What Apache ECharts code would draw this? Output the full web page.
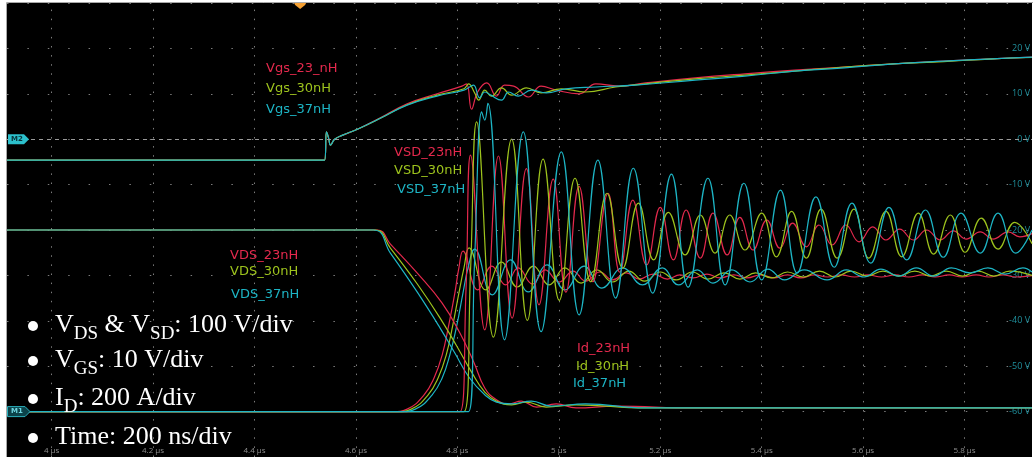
<!DOCTYPE html>
<html><head><meta charset="utf-8">
<script src="https://cdn.jsdelivr.net/npm/echarts@6/dist/echarts.min.js"></script>
<style>html,body{margin:0;padding:0;background:#fff;overflow:hidden}#c{width:1033px;height:457px}</style>
</head><body><div id="c"></div><script>
// ---- axis ticks ----
const timeTicks = [4.0, 4.2, 4.4, 4.6, 4.8, 5.0, 5.2, 5.4, 5.6, 5.8]; // µs
const triggerTime = 4.49;
// ---- Vgs (V) ----
const vgs23 = [[3.912,-4.6],[4.538,-4.6],[4.542,1.6],[4.546,0.3],[4.550,-1.3],[4.558,0.0],[4.574,0.9],[4.603,2.2],[4.648,4.7],[4.701,7.8],[4.760,10.0],[4.809,11.7],[4.818,12.2],[4.828,6.6],[4.840,10.4],[4.858,12.4],[4.877,9.5],[4.893,11.9],[4.911,11.7],[4.940,9.3],[4.965,11.7],[4.995,10.8],[5.040,10.0],[5.073,12.2],[5.118,11.7],[5.171,12.4],[5.269,13.5],[5.367,14.4],[5.465,15.2],[5.563,15.9],[5.661,16.6],[5.759,17.2],[5.856,17.7],[5.933,18.1]];
const vgs30 = [[3.912,-4.6],[4.538,-4.6],[4.542,1.6],[4.546,0.3],[4.550,-1.3],[4.558,0.0],[4.574,0.9],[4.603,2.2],[4.648,4.6],[4.701,7.6],[4.760,9.7],[4.813,11.1],[4.822,12.2],[4.834,10.2],[4.842,8.6],[4.854,10.8],[4.867,9.5],[4.887,11.3],[4.907,9.7],[4.936,11.3],[4.965,10.2],[5.005,11.1],[5.053,10.4],[5.112,11.5],[5.171,12.2],[5.269,13.3],[5.367,14.1],[5.465,15.0],[5.563,15.9],[5.661,16.6],[5.759,17.1],[5.856,17.7],[5.933,18.0]];
const vgs37 = [[3.912,-4.6],[4.538,-4.6],[4.542,1.6],[4.546,0.3],[4.550,-1.3],[4.558,0.0],[4.574,0.9],[4.603,2.2],[4.648,4.6],[4.701,7.5],[4.760,9.5],[4.813,10.8],[4.824,11.5],[4.832,11.9],[4.844,9.1],[4.854,10.4],[4.866,9.7],[4.887,8.6],[4.901,10.4],[4.920,9.5],[4.946,10.8],[4.975,10.2],[5.014,11.1],[5.073,11.5],[5.151,11.9],[5.269,13.0],[5.367,13.9],[5.465,15.0],[5.563,15.7],[5.661,16.6],[5.759,17.2],[5.856,17.7],[5.933,18.1]];
// ---- VDS (V) ----
const vds23 = [[3.912,400],[4.642,400],[4.668,369],[4.721,305],[4.770,239],[4.805,173],[4.832,110],[4.854,52],[4.877,26],[4.901,17],[4.926,23],[4.956,10],[4.995,17],[5.034,8],[5.112,12],[5.269,8],[5.933,8]];
const vds30 = [[3.912,400],[4.638,400],[4.668,360],[4.721,281],[4.766,206],[4.799,144],[4.828,87],[4.854,43],[4.877,23],[4.907,15],[4.936,21],[4.975,10],[5.034,15],[5.171,8],[5.933,8]];
const vds37 = [[3.912,400],[4.634,400],[4.668,349],[4.721,263],[4.766,184],[4.795,129],[4.824,74],[4.854,37],[4.877,21],[4.907,17],[4.946,23],[4.985,12],[5.053,17],[5.171,8],[5.933,8]];
// ---- VSD (V) ----
const vsd23 = [[3.912,0],[4.805,0],[4.817,268],[4.826,565],[4.854,180],[4.881,563],[4.908,206],[4.936,535],[4.961,235],[4.989,512],[5.014,263],[5.040,496],[5.067,286],[5.097,481],[5.120,307],[5.146,466],[5.173,323],[5.200,450],[5.226,334],[5.251,444],[5.279,338],[5.304,437],[5.332,345],[5.357,428],[5.383,356],[5.410,422],[5.436,360],[5.461,415],[5.488,363],[5.513,411],[5.539,367],[5.566,411],[5.592,374],[5.619,407],[5.645,378],[5.672,402],[5.699,378],[5.725,400],[5.752,378],[5.778,398],[5.803,380],[5.831,396],[5.856,380],[5.886,396],[5.909,385],[5.933,392]];
const vsd30 = [[3.912,0],[4.813,0],[4.826,312],[4.838,638],[4.871,164],[4.907,600],[4.938,201],[4.969,556],[5.001,245],[5.032,514],[5.063,286],[5.095,481],[5.126,316],[5.157,459],[5.187,334],[5.216,439],[5.249,345],[5.279,433],[5.308,349],[5.337,433],[5.367,356],[5.400,437],[5.429,341],[5.459,441],[5.488,338],[5.517,446],[5.549,338],[5.582,446],[5.611,338],[5.645,441],[5.676,341],[5.709,437],[5.739,347],[5.772,433],[5.801,351],[5.833,426],[5.866,358],[5.899,417],[5.933,370]];
const vsd37 = [[3.912,0],[4.822,0],[4.834,334],[4.848,660],[4.854,642],[4.860,679],[4.893,158],[4.930,616],[4.965,176],[5.005,572],[5.040,213],[5.077,554],[5.112,250],[5.147,536],[5.185,261],[5.222,523],[5.255,274],[5.294,514],[5.328,279],[5.365,503],[5.400,290],[5.437,488],[5.470,305],[5.507,473],[5.543,318],[5.578,459],[5.615,327],[5.651,450],[5.686,334],[5.723,444],[5.758,340],[5.793,437],[5.831,349],[5.866,437],[5.901,349],[5.933,400]];
// ---- Id (A) ----
const id23 = [[3.912,0],[4.672,0],[4.701,11],[4.734,73],[4.754,148],[4.770,249],[4.783,381],[4.795,522],[4.803,633],[4.811,707],[4.840,536],[4.868,641],[4.895,558],[4.920,633],[4.948,562],[4.973,624],[5.001,571],[5.028,619],[5.053,575],[5.081,615],[5.106,580],[5.133,611],[5.159,584],[5.186,606],[5.214,584],[5.239,602],[5.265,589],[5.292,606],[5.318,589],[5.345,602],[5.371,589],[5.398,602],[5.424,589],[5.451,602],[5.477,589],[5.504,602],[5.530,593],[5.557,602],[5.583,593],[5.610,602],[5.636,593],[5.663,602],[5.690,593],[5.717,602],[5.742,593],[5.770,602],[5.795,593],[5.823,602],[5.848,593],[5.876,602],[5.901,593],[5.933,599]];
const id30 = [[3.912,0],[4.680,0],[4.709,11],[4.742,73],[4.762,148],[4.778,249],[4.791,381],[4.803,522],[4.813,633],[4.823,721],[4.856,536],[4.887,659],[4.918,549],[4.950,641],[4.981,558],[5.012,633],[5.044,566],[5.075,624],[5.106,571],[5.138,619],[5.169,575],[5.200,615],[5.232,580],[5.263,615],[5.294,584],[5.326,611],[5.357,584],[5.388,611],[5.420,589],[5.451,615],[5.482,593],[5.514,619],[5.545,593],[5.576,619],[5.608,597],[5.639,619],[5.670,597],[5.702,619],[5.733,597],[5.764,619],[5.796,597],[5.827,619],[5.858,597],[5.889,619],[5.933,600]];
const id37 = [[3.912,0],[4.687,0],[4.717,11],[4.750,73],[4.770,148],[4.785,249],[4.799,381],[4.811,522],[4.821,633],[4.834,716],[4.869,514],[4.905,668],[4.940,527],[4.977,646],[5.012,536],[5.050,641],[5.085,544],[5.126,633],[5.165,558],[5.204,633],[5.236,558],[5.273,624],[5.304,566],[5.341,624],[5.377,571],[5.412,628],[5.445,580],[5.484,624],[5.529,580],[5.567,624],[5.602,593],[5.635,628],[5.670,597],[5.705,633],[5.739,597],[5.774,633],[5.811,611],[5.846,633],[5.880,606],[5.915,633],[5.933,615]];

// ---- styling ----
const C23 = '#e4294d', C30 = '#9dc31d', C37 = '#1db5c5';
const GRIDC = '#7c7c7c';

function line(name, data, color, yIdx, extra) {
  return Object.assign({
    type: 'line', name, data, yAxisIndex: yIdx, showSymbol: false, symbol: 'none',
    smooth: 0.45, animation: false, silent: true,
    lineStyle: { color, width: 1.2 }
  }, extra || {});
}

const option = {
  backgroundColor: '#ffffff',
  animation: false,
  grid: { left: 7, top: 3, right: -6, bottom: 0, show: true, backgroundColor: '#000', borderWidth: 0 },
  xAxis: {
    type: 'value', min: 3.912, max: 5.933,
    axisLine: { show: false },
    axisTick: { show: false },
    splitLine: { show: false },
    axisLabel: {
      inside: true, customValues: timeTicks, margin: 2, color: '#8e8e8e', fontSize: 8,
      fontFamily: 'Open Sans',
      formatter: v => parseFloat(v.toFixed(1)) + ' µs'
    }
  },
  yAxis: [
    { type: 'value', min: -70, max: 30, interval: 10, position: 'right',
      axisLine: { show: false }, axisTick: { show: false },
      splitLine: { show: true, lineStyle: { color: GRIDC, width: 1, type: [1.5, 18.9] } },
      axisLabel: { inside: true, margin: 2, color: '#1f8f9c', fontSize: 9, fontFamily: 'Open Sans',
        formatter: v => (v <= -70 || v >= 30) ? '' : v + ' V' } },
    { type: 'value', min: -100, max: 900, show: false, splitLine: { show: false } },
    { type: 'value', min: -200, max: 1800, show: false, splitLine: { show: false } }
  ],
  series: [
    line('Id_23nH', id23, C23, 2, {
      markLine: { silent: true, symbol: 'none', label: { show: false }, z: 1,
        lineStyle: { color: GRIDC, type: [1.5, 7.6], width: 1 },
        data: timeTicks.map(t => ({ xAxis: t })) } }),
    line('Id_30nH', id30, C30, 2), line('Id_37nH', id37, C37, 2),
    line('VDS_23nH', vds23, C23, 1), line('VDS_30nH', vds30, C30, 1), line('VDS_37nH', vds37, C37, 1),
    line('VSD_23nH', vsd23, C23, 1), line('VSD_30nH', vsd30, C30, 1), line('VSD_37nH', vsd37, C37, 1),
    line('Vgs_23nH', vgs23, C23, 0, {
      markLine: { silent: true, symbol: 'none', label: { show: false },
        lineStyle: { color: '#9a9a9a', type: [4, 4], width: 1 }, data: [{ yAxis: 0 }] } }),
    line('Vgs_30nH', vgs30, C30, 0), line('Vgs_37nH', vgs37, C37, 0)
  ]
};

const chart = echarts.init(document.getElementById('c'));
chart.setOption(option);

const yM2 = chart.convertToPixel({ yAxisIndex: 0 }, 0);
const yM1 = chart.convertToPixel({ yAxisIndex: 2 }, 0);
const xTr = chart.convertToPixel({ xAxisIndex: 0 }, triggerTime);

const annoFont = 'DejaVu Sans';
const annos = [
  ['Vgs_23_nH', 266, 69, C23], ['Vgs_30nH', 266, 89, C30], ['Vgs_37nH', 266, 110, C37],
  ['VSD_23nH', 394, 153, C23], ['VSD_30nH', 394, 171, C30], ['VSD_37nH', 397, 190, C37],
  ['VDS_23nH', 230, 256, C23], ['VDS_30nH', 230, 272, C30], ['VDS_37nH', 231, 295, C37],
  ['Id_23nH', 577, 349, C23], ['Id_30nH', 576, 367, C30], ['Id_37nH', 573, 384, C37]
];
const graphics = [];
// frame
graphics.push({ type: 'line', silent: true, shape: { x1: 6.5, y1: 2.5, x2: 6.5, y2: 457 }, style: { stroke: '#a8a8a8', lineWidth: 1 } });
graphics.push({ type: 'line', silent: true, shape: { x1: 6.5, y1: 2.5, x2: 1033, y2: 2.5 }, style: { stroke: '#a8a8a8', lineWidth: 1 } });
annos.forEach(a => graphics.push({ type: 'text', silent: true, z: 50, style: {
  text: a[0], x: a[1], y: a[2], fill: a[3], font: '13px "' + annoFont + '"', verticalAlign: 'middle', align: 'left' } }));
// bullets
const bulletLines = [
  { t: '{m|V}{s|DS}{m| & V}{s|SD}{m|: 100 V/div}', y: 326 },
  { t: '{m|V}{s|GS}{m|: 10 V/div}', y: 361 },
  { t: '{m|I}{s|D}{m|: 200 A/div}', y: 399 },
  { t: '{m|Time: 200 ns/div}', y: 438 }
];
bulletLines.forEach(b => {
  graphics.push({ type: 'circle', silent: true, z: 60, shape: { cx: 33, cy: b.y, r: 5 }, style: { fill: '#fff' } });
  graphics.push({ type: 'text', silent: true, z: 60, style: {
    text: b.t, x: 55, y: b.y - 14, fill: '#fff', verticalAlign: 'top',
    rich: {
      m: { fontFamily: 'Liberation Serif', fontSize: 26, lineHeight: 30, fill: '#fff', verticalAlign: 'top' },
      s: { fontFamily: 'Liberation Serif', fontSize: 19, lineHeight: 19, fill: '#fff', verticalAlign: 'top', padding: [13, 0, 0, 0] }
    } } });
});
// M2 marker
graphics.push({ type: 'polygon', silent: true, z: 70, shape: { points: [[8, yM2 - 5], [24, yM2 - 5], [29, yM2], [24, yM2 + 5], [8, yM2 + 5]] }, style: { fill: '#2cc0cc' } });
graphics.push({ type: 'text', silent: true, z: 71, style: { text: 'M2', x: 17, y: yM2, align: 'center', verticalAlign: 'middle', fill: '#083238', font: 'bold 7px "DejaVu Sans"' } });
// M1 marker
graphics.push({ type: 'polygon', silent: true, z: 70, shape: { points: [[7.5, yM1 - 5], [25, yM1 - 5], [30, yM1], [25, yM1 + 5], [7.5, yM1 + 5]] }, style: { fill: '#0c434a', stroke: '#2ab0bd', lineWidth: 1 } });
graphics.push({ type: 'text', silent: true, z: 71, style: { text: 'M1', x: 17, y: yM1, align: 'center', verticalAlign: 'middle', fill: '#6fd6e0', font: 'bold 7px "DejaVu Sans"' } });
// trigger marker
graphics.push({ type: 'polygon', silent: true, z: 70, shape: { points: [[xTr - 6, 3], [xTr + 6, 3], [xTr + 5, 5], [xTr, 9], [xTr - 5, 5]] }, style: { fill: '#f5a033' } });

chart.setOption({ graphic: graphics });
</script></body></html>
